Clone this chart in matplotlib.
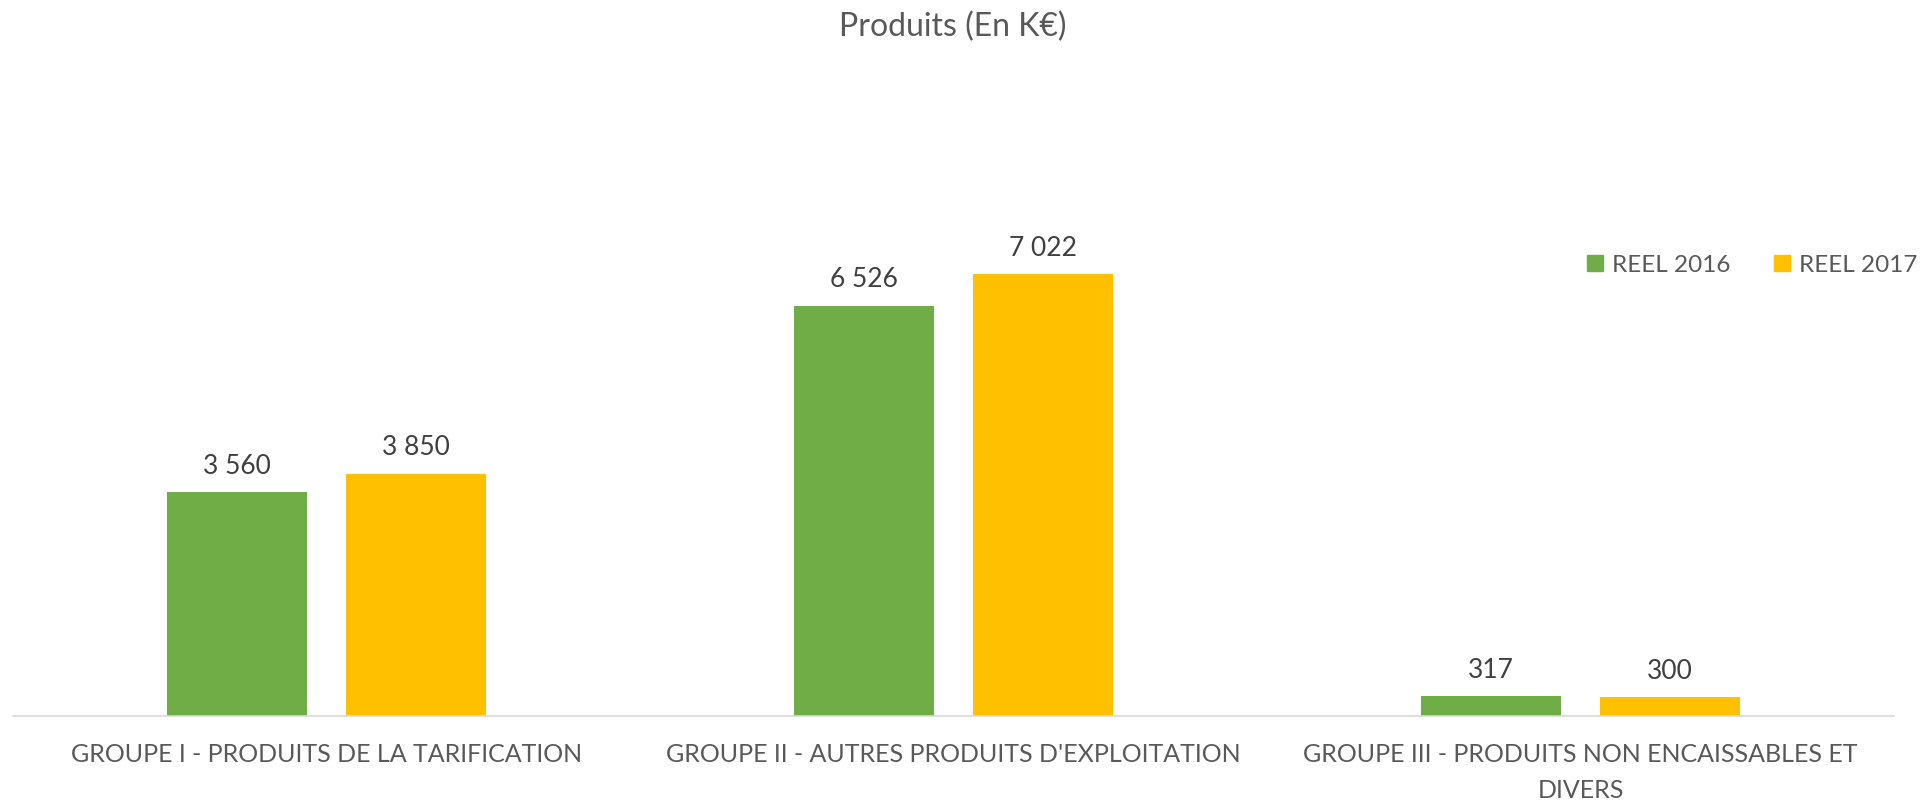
import numpy as np
import matplotlib.pyplot as plt
from matplotlib.patches import Patch

# données du graphique
categories = ["GROUPE I - PRODUITS DE LA TARIFICATION",
              "GROUPE II - AUTRES PRODUITS D'EXPLOITATION",
              "GROUPE III - PRODUITS NON ENCAISSABLES ET\nDIVERS"]
reel_2016 = [3560, 6526, 317]
reel_2017 = [3850, 7022, 300]
series_names = ["REEL 2016", "REEL 2017"]

GREEN = "#70AD47"
YELLOW = "#FFC000"
GREY = "#595959"

plt.rcParams['font.family'] = ['Lato', 'DejaVu Sans']

W, H = 1924, 804
fig = plt.figure(figsize=(W / 100, H / 100), dpi=100)
ax = fig.add_axes([13 / W, (H - 717) / H, 1881 / W, 503 / H])

x = np.arange(len(categories))
bw = 0.2233
off = 0.1427
b1 = ax.bar(x - off, reel_2016, bw, color=GREEN)
b2 = ax.bar(x + off, reel_2017, bw, color=YELLOW)

def fmt(v):
    return "{:,.0f}".format(v).replace(",", " ")

# étiquettes de valeurs au-dessus des barres
for bars in (b1, b2):
    for r in bars:
        ax.annotate(fmt(r.get_height()), (r.get_x() + r.get_width() / 2, r.get_height()),
                    xytext=(0, 14), textcoords="offset points", ha="center", va="baseline",
                    fontsize=19, color="#404040")

ax.set_xlim(-0.5, 2.5)
ax.set_ylim(0, 8000)
ax.set_yticks([])
for s in ["top", "right", "left"]:
    ax.spines[s].set_visible(False)
ax.spines["bottom"].set_color("#D9D9D9")
ax.spines["bottom"].set_linewidth(1.2)
ax.set_xticks(x)
ax.set_xticklabels(categories, fontsize=18, color=GREY, linespacing=1.65)
ax.tick_params(axis="x", length=0, pad=19)

fig.text(953 / W, 1 - 27 / H, "Produits (En K€)", ha="center", va="center",
         fontsize=23, color=GREY)

handles = [Patch(color=GREEN), Patch(color=YELLOW)]
fig.legend(handles, series_names, loc="center left", bbox_to_anchor=(1565 / W, 1 - 266 / H),
           ncol=2, frameon=False, fontsize=17.5, labelcolor=GREY,
           handlelength=0.65, handleheight=0.65, handletextpad=0.37, columnspacing=1.8)

fig.savefig("out.png", dpi=100, facecolor="white")
